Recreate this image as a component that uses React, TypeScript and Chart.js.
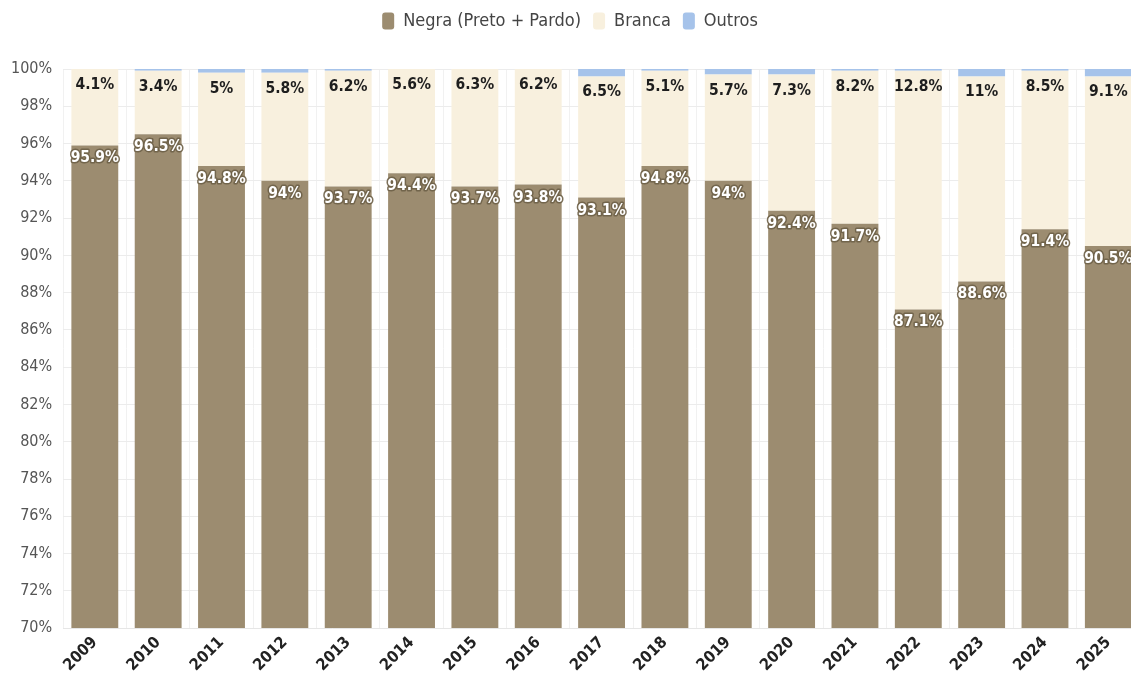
import React, { useEffect, useRef } from "react";
import { Chart, registerables } from "chart.js";

Chart.register(...registerables);

const years = ["2009","2010","2011","2012","2013","2014","2015","2016","2017","2018","2019","2020","2021","2022","2023","2024","2025"];
const negra = [95.9, 96.5, 94.8, 94, 93.7, 94.4, 93.7, 93.8, 93.1, 94.8, 94, 92.4, 91.7, 87.1, 88.6, 91.4, 90.5];
const branca = [4.1, 3.4, 5, 5.8, 6.2, 5.6, 6.3, 6.2, 6.5, 5.1, 5.7, 7.3, 8.2, 12.8, 11, 8.5, 9.1];
const outros = [0, 0.1, 0.2, 0.2, 0.1, 0, 0, 0, 0.4, 0.1, 0.3, 0.3, 0.1, 0.1, 0.4, 0.1, 0.4];

const FONT = '"Liberation Sans Narrow", "DejaVu Sans Condensed", Roboto, sans-serif';

const legendSpacer = {
  id: "legendSpacer",
  beforeInit(chart: any) {
    const origFit = chart.legend.fit;
    chart.legend.fit = function () {
      origFit.bind(chart.legend)();
      this.height += 29;
    };
  },
};

const labelPlugin = {
  id: "barLabels",
  afterDatasetsDraw(chart: any) {
    const ctx = chart.ctx;
    ctx.save();
    ctx.textAlign = "center";
    ctx.textBaseline = "middle";
    ctx.font = `bold 15.5px ${FONT}`;
    [0, 1].forEach((di) => {
      const meta = chart.getDatasetMeta(di);
      const data = chart.data.datasets[di].data as number[];
      meta.data.forEach((el: any, i: number) => {
        const txt = `${data[i]}%`;
        const y = el.y + (di === 0 ? 13 : 16);
        if (di === 0) {
          ctx.lineJoin = "round";
          ctx.lineWidth = 3;
          ctx.strokeStyle = "rgba(110,96,72,0.9)";
          ctx.strokeText(txt, el.x, y);
          ctx.fillStyle = "#ffffff";
          ctx.fillText(txt, el.x, y);
        } else {
          ctx.fillStyle = "#1e1e1e";
          ctx.fillText(txt, el.x, y);
        }
      });
    });
    ctx.restore();
  },
};

export default function App() {
  const ref = useRef<HTMLCanvasElement>(null);
  useEffect(() => {
    if (!ref.current) return;
    const chart = new Chart(ref.current, {
      type: "bar",
      data: {
        labels: years,
        datasets: [
          { label: "Negra (Preto + Pardo)", data: negra, backgroundColor: "#9c8c70" },
          { label: "Branca", data: branca, backgroundColor: "#f8f0de" },
          { label: "Outros", data: outros, backgroundColor: "#a6c3ea" },
        ],
      },
      options: {
        animation: false,
        responsive: false,
        maintainAspectRatio: false,
        layout: { padding: { top: 0, left: 0, right: 0, bottom: 0 } },
        datasets: { bar: { categoryPercentage: 1, barPercentage: 0.74 } },
        plugins: {
          legend: {
            position: "top",
            labels: {
              font: { family: FONT, size: 18 },
              color: "#444",
              boxWidth: 12,
              boxHeight: 17,
              padding: 12,
              useBorderRadius: true,
              borderRadius: 3,
            },
          },
          tooltip: { enabled: false },
        },
        scales: {
          x: {
            stacked: true,
            grid: { color: "#f1f1f1", drawTicks: false },
            border: { color: "#e6e6e6" },
            ticks: {
              font: { family: FONT, size: 16, weight: "bold" },
              color: "#222",
              maxRotation: 45,
              minRotation: 45,
              padding: 5,
            },
          },
          y: {
            stacked: true,
            min: 70,
            max: 100,
            grid: { color: "#ececec", drawTicks: false },
            border: { display: false },
            ticks: {
              stepSize: 2,
              font: { family: FONT, size: 16 },
              color: "#555",
              padding: 11,
              callback: (v: any) => `${v}%`,
            },
          },
        },
      },
      plugins: [legendSpacer, labelPlugin],
    });
    return () => chart.destroy();
  }, []);
  return (
    <div style={{ position: "fixed", left: 0, top: 0, width: 1140, height: 680, background: "#fff" }}>
      <canvas ref={ref} width={1140} height={680} style={{ display: "block" }} />
    </div>
  );
}
